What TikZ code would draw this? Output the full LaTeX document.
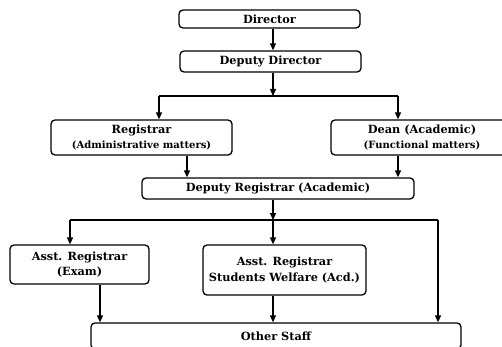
\documentclass[tikz,border=0pt]{standalone}
\usepackage{fontspec}
\setmainfont{DejaVu Serif}
\usetikzlibrary{arrows.meta}
\begin{document}
\begin{tikzpicture}[x=1pt,y=-1pt,
  box/.style={draw, line width=1.3pt, rounded corners=4pt, inner sep=0pt, align=center,
    font=\bfseries\fontsize{11.3}{15.5}\selectfont},
  arr/.style={line width=1.3pt, -{Triangle[length=7pt,width=6pt]}},
  ln/.style={line width=1.3pt}]
\newcommand\sub[1]{{\fontsize{10}{12}\selectfont #1}}
\useasboundingbox (0,0) rectangle (502,347);
\clip (0,0) rectangle (502,347);
\node[box, minimum width=181pt, minimum height=18pt] (dir) at (269.5,19) {Director};
\node[box, minimum width=181pt, minimum height=21pt] (dd) at (270.5,61.5) {Deputy Director};
\node[box, minimum width=181pt, minimum height=35pt] (reg) at (141.5,137.5) {Registrar\\\sub{(Administrative matters)}};
\node[box, minimum width=182pt, minimum height=35pt] (dean) at (422,137.5) {Dean (Academic)\\\sub{(Functional matters)}};
\node[box, minimum width=272pt, minimum height=21pt] (dr) at (278,188.5) {Deputy Registrar (Academic)};
\node[box, minimum width=139pt, minimum height=39pt] (exam) at (79.5,264.5) {Asst. Registrar\\(Exam)};
\node[box, minimum width=163pt, minimum height=50pt] (asw) at (284.5,270) {Asst. Registrar\\Students Welfare (Acd.)};
\node[box, minimum width=370pt, minimum height=26pt] (other) at (276,336) {Other Staff};
\coordinate (trunk) at (273,0);
\coordinate (j1) at (273,96);
\coordinate (j1l) at (159,96);
\coordinate (j1r) at (398,96);
\coordinate (j2) at (273,220);
\coordinate (j2l) at (70,220);
\coordinate (j2r) at (438,220);
\draw[arr] (dir.south -| trunk) -- (dd.north -| trunk);
\draw[arr] (dd.south -| trunk) -- (j1);
\draw[ln] (j1l) -- (j1r);
\draw[arr] (j1l) -- (reg.north -| j1l);
\draw[arr] (j1r) -- (dean.north -| j1r);
\draw[arr] (reg.south -| 187,0) -- (dr.north -| 187,0);
\draw[arr] (dean.south -| j1r) -- (dr.north -| j1r);
\draw[arr] (dr.south -| trunk) -- (j2);
\draw[ln] (j2l) -- (j2r);
\draw[arr] (j2l) -- (exam.north -| j2l);
\draw[arr] (j2) -- (asw.north -| j2);
\draw[arr] (j2r) -- (other.north -| j2r);
\draw[arr] (exam.south -| 100,0) -- (other.north -| 100,0);
\draw[arr] (asw.south -| trunk) -- (other.north -| trunk);
\end{tikzpicture}
\end{document}
